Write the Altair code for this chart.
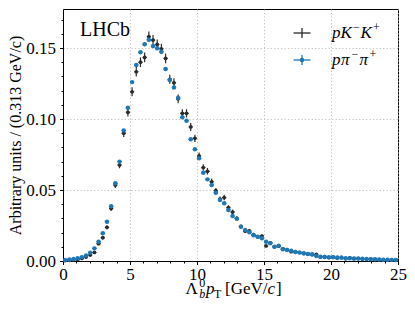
import altair as alt
import pandas as pd

# ---------------- data ----------------
bin_width = 0.3125
n_bins = 80

kk_vals = [0.0003, 0.0005, 0.0007, 0.0010, 0.0018, 0.0028, 0.0042, 0.0060,
           0.0122, 0.0164, 0.0237, 0.0370, 0.0535, 0.0676, 0.0900, 0.1047,
           0.1192, 0.1333, 0.1400, 0.1434, 0.1580, 0.1556, 0.1525, 0.1495,
           0.1427, 0.1280, 0.1255, 0.1142, 0.1040, 0.1040, 0.0944, 0.0864,
           0.0740, 0.0658, 0.0632, 0.0558, 0.0495, 0.0436, 0.0447, 0.0376,
           0.0345, 0.0300, 0.0243, 0.0210, 0.0212, 0.0186, 0.0170, 0.0176,
           0.0106, 0.0128, 0.0100, 0.0104, 0.0086, 0.0080, 0.0066, 0.0066,
           0.0060, 0.0052, 0.0050, 0.0044, 0.0046, 0.0028, 0.0030, 0.0024,
           0.0027, 0.0021, 0.0025, 0.0016, 0.0022, 0.0016, 0.0017, 0.0014,
           0.0012, 0.0013, 0.0010, 0.0010, 0.0008, 0.0008, 0.0007, 0.0006]

kk_err = [0.0002, 0.0002, 0.0002, 0.0003, 0.0004, 0.0005, 0.0006, 0.0007,
          0.0010, 0.0012, 0.0014, 0.0017, 0.0021, 0.0023, 0.0027, 0.0029,
          0.0031, 0.0033, 0.0034, 0.0034, 0.0036, 0.0036, 0.0035, 0.0035,
          0.0034, 0.0032, 0.0032, 0.0030, 0.0029, 0.0029, 0.0028, 0.0026,
          0.0024, 0.0023, 0.0023, 0.0021, 0.0020, 0.0019, 0.0019, 0.0017,
          0.0017, 0.0016, 0.0014, 0.0013, 0.0013, 0.0012, 0.0012, 0.0012,
          0.0009, 0.0010, 0.0009, 0.0009, 0.0008, 0.0008, 0.0007, 0.0007,
          0.0007, 0.0006, 0.0006, 0.0006, 0.0006, 0.0005, 0.0005, 0.0004,
          0.0005, 0.0004, 0.0004, 0.0004, 0.0004, 0.0004, 0.0004, 0.0003,
          0.0003, 0.0003, 0.0003, 0.0003, 0.0003, 0.0003, 0.0002, 0.0002]

pipi_vals = [0.0007, 0.0010, 0.0014, 0.0019, 0.0026, 0.0038, 0.0059, 0.0089,
             0.0136, 0.0195, 0.0276, 0.0385, 0.0547, 0.0700, 0.0920, 0.1080,
             0.1260, 0.1380, 0.1470, 0.1527, 0.1558, 0.1514, 0.1498, 0.1474,
             0.1352, 0.1275, 0.1222, 0.1150, 0.1012, 0.0988, 0.0857, 0.0787,
             0.0723, 0.0621, 0.0575, 0.0535, 0.0480, 0.0430, 0.0406, 0.0360,
             0.0317, 0.0298, 0.0242, 0.0218, 0.0202, 0.0181, 0.0171, 0.0160,
             0.0136, 0.0125, 0.0101, 0.0108, 0.0082, 0.0078, 0.0073, 0.0063,
             0.0059, 0.0054, 0.0049, 0.0047, 0.0035, 0.0030, 0.0028, 0.0026,
             0.0026, 0.0025, 0.0023, 0.0019, 0.0019, 0.0018, 0.0018, 0.0016,
             0.0014, 0.0013, 0.0012, 0.0011, 0.0009, 0.0009, 0.0008, 0.0007]

pipi_err = [0.0001, 0.0001, 0.0001, 0.0001, 0.0002, 0.0002, 0.0002, 0.0003,
            0.0003, 0.0004, 0.0005, 0.0006, 0.0007, 0.0008, 0.0009, 0.0010,
            0.0011, 0.0011, 0.0012, 0.0012, 0.0012, 0.0012, 0.0012, 0.0012,
            0.0011, 0.0011, 0.0010, 0.0010, 0.0010, 0.0009, 0.0009, 0.0008,
            0.0008, 0.0007, 0.0007, 0.0007, 0.0007, 0.0006, 0.0006, 0.0006,
            0.0005, 0.0005, 0.0005, 0.0004, 0.0004, 0.0004, 0.0004, 0.0004,
            0.0003, 0.0003, 0.0003, 0.0003, 0.0003, 0.0003, 0.0003, 0.0002,
            0.0002, 0.0002, 0.0002, 0.0002, 0.0002, 0.0002, 0.0002, 0.0002,
            0.0002, 0.0002, 0.0001, 0.0001, 0.0001, 0.0001, 0.0001, 0.0001,
            0.0001, 0.0001, 0.0001, 0.0001, 0.0001, 0.0001, 0.0001, 0.0001]

x_tick_values = list(range(0, 26))
y_tick_values = [round(k * 0.01, 2) for k in range(18)]

BLACK = "#2b2b2b"
BLUE = "#1f77b4"
FONT = "Liberation Serif"


def frame(vals, errs):
    centers = [(i + 0.5) * bin_width for i in range(n_bins)]
    return pd.DataFrame({
        "xc": centers,
        "xlo": [c - bin_width / 2 for c in centers],
        "xhi": [c + bin_width / 2 for c in centers],
        "v": vals,
        "vlo": [v - e for v, e in zip(vals, errs)],
        "vhi": [v + e for v, e in zip(vals, errs)],
    })


df_kk = frame(kk_vals, kk_err)
df_pp = frame(pipi_vals, pipi_err)

grid_kw = dict(grid=True, gridColor="#b0b0b0", gridDash=[1.2, 2.2], gridWidth=0.8)

x_axis = alt.Axis(
    values=x_tick_values, format="d", title=None,
    labelExpr="datum.value % 5 === 0 ? datum.label : ''",
    tickSize={"condition": {"test": "datum.value % 5 !== 0", "value": 2}, "value": 3.5},
    gridOpacity={"condition": {"test": "datum.value % 5 !== 0", "value": 0}, "value": 1},
    labelFlush=False, labelOverlap=False, labelPadding=2,
    labelFont=FONT, labelFontSize=17, labelColor="black",
    tickColor="black", domainColor="black", **grid_kw)

y_axis = alt.Axis(
    values=y_tick_values, format=".2f",
    title="Arbitrary units / (0.313 GeV/c)",
    labelExpr="round(datum.value * 100) % 5 === 0 ? datum.label : ''",
    tickSize={"condition": {"test": "round(datum.value * 100) % 5 !== 0", "value": 2}, "value": 3.5},
    gridOpacity={"condition": {"test": "round(datum.value * 100) % 5 !== 0", "value": 0}, "value": 1},
    labelFlush=False, labelOverlap=False, labelPadding=4,
    labelFont=FONT, labelFontSize=17, labelColor="black",
    titleFont=FONT, titleFontSize=16, titleFontWeight="normal", titleColor="black",
    titlePadding=2,
    tickColor="black", domainColor="black", **grid_kw)

xs = alt.Scale(domain=[0, 25], nice=False, zero=False)
ys = alt.Scale(domain=[0, 0.1775], nice=False, zero=False)


def X(f):
    return alt.X(f, type="quantitative", scale=xs, axis=x_axis)


def Y(f):
    return alt.Y(f, type="quantitative", scale=ys, axis=y_axis)


def series(df, color, size, sw):
    base = alt.Chart(df)
    hbar = base.mark_rule(color=color, strokeWidth=sw).encode(
        x=X("xlo"), x2="xhi", y=Y("v"))
    vbar = base.mark_rule(color=color, strokeWidth=sw).encode(
        x=X("xc"), y=Y("vlo"), y2="vhi")
    pts = base.mark_circle(color=color, size=size, opacity=1).encode(
        x=X("xc"), y=Y("v"))
    return [hbar, vbar, pts]


one = alt.Data(values=[{}])


def txt(s, x, y, size, style="normal", align="left", baseline="alphabetic"):
    return alt.Chart(one).mark_text(
        text=s, font=FONT, fontSize=size, fontStyle=style, color="black",
        align=align, baseline=baseline).encode(x=alt.value(x), y=alt.value(y))


def rule_h(x1, x2, y, color, sw=1.3):
    return alt.Chart(one).mark_rule(color=color, strokeWidth=sw).encode(
        x=alt.value(x1), x2=alt.value(x2), y=alt.value(y))


def rule_v(x, y1, y2, color, sw=1.3):
    return alt.Chart(one).mark_rule(color=color, strokeWidth=sw).encode(
        x=alt.value(x), y=alt.value(y1), y2=alt.value(y2))


layers = []
layers += series(df_kk, BLACK, 14, 1.2)
layers += series(df_pp, BLUE, 20, 1.2)

# LHCb label
layers.append(txt("LHCb", 17, 27, 20))

# legend
lx = 239
layers += [rule_h(lx - 8.5, lx + 8.5, 24, BLACK), rule_v(lx, 19, 29, BLACK)]
layers += [rule_h(lx - 8.5, lx + 8.5, 51, BLUE), rule_v(lx, 46, 56, BLUE)]
layers.append(alt.Chart(one).mark_circle(color=BLUE, size=20, opacity=1).encode(
    x=alt.value(lx), y=alt.value(51)))

# legend text "pK−K+" (italic letters, raised charges)
b1, b2 = 29, 56
layers += [
    txt("p", 269, b1, 17, style="italic"),
    txt("K", 277.5, b1, 17, style="italic"),
    txt("−", 290, b1 - 7, 12),
    txt("K", 297.5, b1, 17, style="italic"),
    txt("+", 310, b1 - 7, 12),
]
# legend text "pπ−π+"
layers += [
    txt("p", 269, b2, 17, style="italic"),
    txt("π", 278, b2, 17, style="italic"),
    txt("−", 288.5, b2 - 7, 12),
    txt("π", 296.5, b2, 17, style="italic"),
    txt("+", 306.5, b2 - 7, 12),
]

# x-axis title: Λ_b^0 p_T [GeV/c]
ty = 285
layers += [
    txt("Λ", 122.5, ty, 17),
    txt("0", 136.3, ty - 7, 12),
    txt("b", 136.3, ty + 3.5, 12, style="italic"),
    txt("p", 143, ty, 17, style="italic"),
    txt("T", 151, ty + 3.5, 12),
    txt("[GeV/", 162, ty, 17),
    txt("c", 204.5, ty, 17, style="italic"),
    txt("]", 213, ty, 17),
]

chart = alt.layer(*layers).properties(
    width=335, height=252,
    autosize=alt.AutoSizeParams(type="none"),
    padding={"left": 55, "top": 1, "right": 9, "bottom": 43},
).configure(
    background="white", font=FONT
).configure_view(
    stroke="black", strokeWidth=1
).configure_axis(
    labelFont=FONT, titleFont=FONT
)

chart.save("out.html", embed_options={"renderer": "svg", "actions": False})
